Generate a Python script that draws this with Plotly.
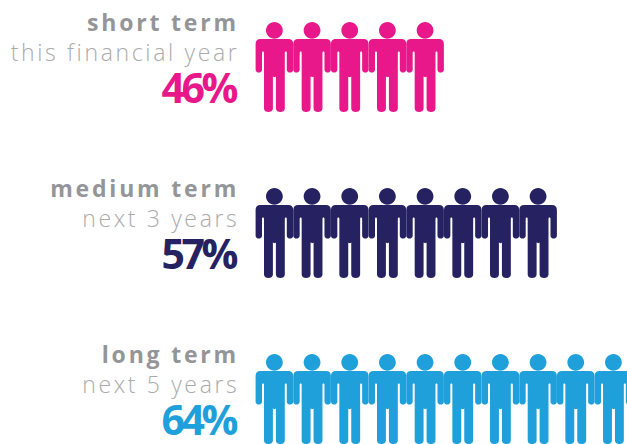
import plotly.graph_objects as go

# Row contents
terms = ["short term", "medium term", "long term"]
horizons = ["this financial year", "next 3 years", "next 5 years"]
percents = [46, 57, 64]
figures = [5, 8, 10]
colors = ["#E8178A", "#262262", "#1FA0DA"]

WIDTH, HEIGHT = 627, 444
STEP_X, STEP_Y = 37.67, 166.0
ORIGIN_X, ORIGIN_Y = 274.4, 67.0

# Pictogram outline in pixels around its anchor, y pointing up
K = 0.5523
R = 8.4
HX, HY = 0.0, 36.7
PERSON = (
    f"M{HX-R},{HY} C{HX-R},{HY+K*R} {HX-K*R},{HY+R} {HX},{HY+R} "
    f"C{HX+K*R},{HY+R} {HX+R},{HY+K*R} {HX+R},{HY} "
    f"C{HX+R},{HY-K*R} {HX+K*R},{HY-R} {HX},{HY-R} "
    f"C{HX-K*R},{HY-R} {HX-R},{HY-K*R} {HX-R},{HY} Z "
    "M-14,27.9 L14,27.9 C17,27.9 18.8,26 18.8,23 L18.8,-2.4 "
    "C18.8,-6.6 12.4,-6.6 12.4,-2.4 L12.4,14.2 C12.4,16 10.4,16 10.4,14.2 L10.4,-41.5 "
    "C10.4,-46.2 1.5,-46.2 1.5,-41.5 L1.5,-9 C1.5,-10.6 -1.5,-10.6 -1.5,-9 L-1.5,-41.5 "
    "C-1.5,-46.2 -10.4,-46.2 -10.4,-41.5 L-10.4,14.2 C-10.4,16 -12.4,16 -12.4,14.2 L-12.4,-2.4 "
    "C-12.4,-6.6 -18.8,-6.6 -18.8,-2.4 L-18.8,23 C-18.8,26 -17,27.9 -14,27.9 Z"
)

fig = go.Figure()
# Empty trace keeps the axes active for the anchored shapes
fig.add_trace(go.Scatter(x=[], y=[], showlegend=False))

shapes = []
annotations = []
for row, (term, horizon, pct, count, color) in enumerate(
    zip(terms, horizons, percents, figures, colors)
):
    for i in range(count):
        shapes.append(dict(
            type="path", path=PERSON, xref="x", yref="y",
            xsizemode="pixel", ysizemode="pixel", xanchor=i, yanchor=row,
            fillcolor=color, line_width=0, layer="above",
        ))
    lines = [
        (term, dict(family="Open Sans", size=23, color="#939598", weight=700), 45, 2.5),
        (horizon, dict(family="Open Sans", size=23, color="#ABABAD", weight=300), 15.5, 2.5),
        (f"{pct}%", dict(family="Open Sans", size=41, color=color, weight=700), -19.5, -2),
    ]
    for text, font, shift, nudge in lines:
        annotations.append(dict(
            text=text, font=font, x=-0.95, y=row, xref="x", yref="y",
            xanchor="right", yanchor="middle", align="right",
            yshift=shift, xshift=nudge, showarrow=False,
        ))

fig.update_layout(
    width=WIDTH, height=HEIGHT,
    margin=dict(l=0, r=0, t=0, b=0),
    paper_bgcolor="white", plot_bgcolor="white",
    xaxis=dict(visible=False, range=[-ORIGIN_X / STEP_X, (WIDTH - ORIGIN_X) / STEP_X]),
    yaxis=dict(visible=False, range=[(HEIGHT - ORIGIN_Y) / STEP_Y, -ORIGIN_Y / STEP_Y]),
    shapes=shapes, annotations=annotations, showlegend=False,
)

# Tracking for the three text styles; right alignment keeps the end edge fixed
tracking = """
document.querySelectorAll('.annotation-text').forEach(function (t) {
  var s = t.textContent;
  var sp = s.indexOf('%') >= 0 ? '-3.5px' : (t.style.fontWeight == '700' ? '2.8px' : '2.65px');
  t.style.letterSpacing = sp;
});
"""
fig.write_html("out.html", post_script=tracking, config={"displayModeBar": False})
